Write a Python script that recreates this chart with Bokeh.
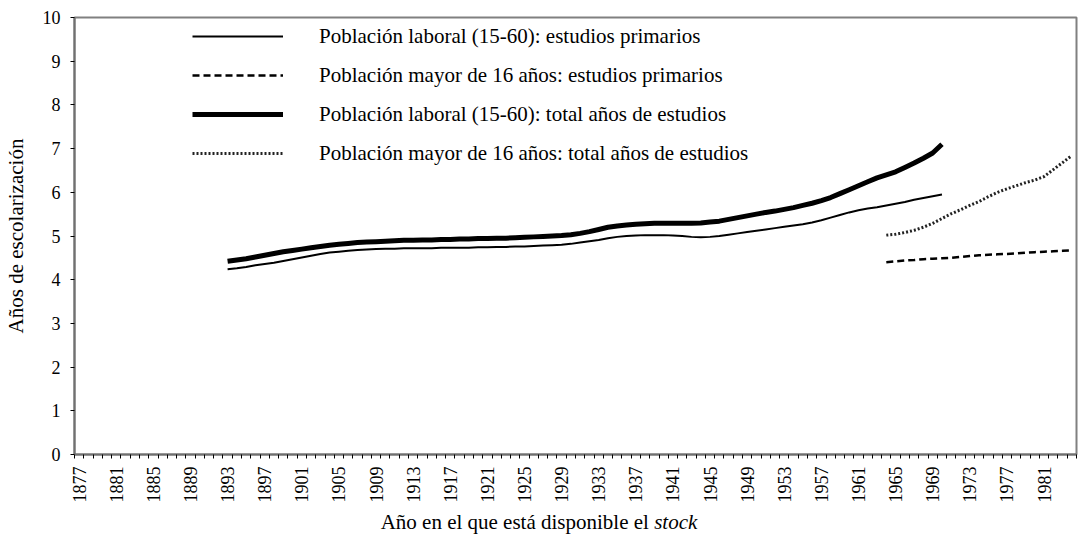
from bokeh.plotting import figure
from bokeh.models import Range1d, FixedTicker, Legend, LegendItem, Div
from bokeh.layouts import column
from bokeh.embed import file_html
from bokeh.resources import INLINE

# ---- data ----
years_laboral = list(range(1893, 1971))
prim_laboral = [4.24, 4.26, 4.29, 4.33, 4.36, 4.39, 4.43, 4.47, 4.51, 4.55, 4.59,
                4.62, 4.64, 4.66, 4.68, 4.69, 4.70, 4.71, 4.71, 4.72, 4.72,
                4.72, 4.72, 4.73, 4.73, 4.73, 4.73, 4.74, 4.74, 4.75, 4.75,
                4.76, 4.76, 4.77, 4.78, 4.79, 4.80, 4.82, 4.85, 4.88, 4.91,
                4.95, 4.98, 5.00, 5.01, 5.02, 5.02, 5.02, 5.01, 5.00, 4.98,
                4.97, 4.98, 5.00, 5.03, 5.06, 5.09, 5.12, 5.15, 5.18, 5.21,
                5.24, 5.27, 5.31, 5.36, 5.42, 5.48, 5.54, 5.59, 5.63, 5.66,
                5.70, 5.74, 5.78, 5.83, 5.87, 5.91, 5.95]
total_laboral = [4.42, 4.45, 4.48, 4.52, 4.56, 4.60, 4.64, 4.67, 4.70, 4.73, 4.76,
                 4.79, 4.81, 4.83, 4.85, 4.86, 4.87, 4.88, 4.89, 4.90, 4.90,
                 4.91, 4.91, 4.92, 4.92, 4.93, 4.93, 4.94, 4.94, 4.95, 4.95,
                 4.96, 4.97, 4.98, 4.99, 5.00, 5.01, 5.03, 5.06, 5.10, 5.15,
                 5.20, 5.23, 5.25, 5.27, 5.28, 5.29, 5.29, 5.29, 5.29, 5.29,
                 5.30, 5.32, 5.34, 5.38, 5.42, 5.46, 5.50, 5.54, 5.57, 5.61,
                 5.65, 5.70, 5.75, 5.81, 5.88, 5.97, 6.06, 6.15, 6.24, 6.33,
                 6.40, 6.47, 6.57, 6.67, 6.78, 6.90, 7.10]
years_mayor = list(range(1964, 1985))
prim_mayor = [4.40, 4.42, 4.44, 4.45, 4.47, 4.48, 4.49, 4.50, 4.52, 4.54,
              4.56, 4.57, 4.58, 4.59, 4.60, 4.62, 4.63, 4.64, 4.65, 4.66, 4.67]
total_mayor = [5.02, 5.04, 5.08, 5.13, 5.20, 5.29, 5.40, 5.51, 5.60, 5.70,
               5.79, 5.90, 6.00, 6.08, 6.15, 6.22, 6.28, 6.36, 6.52, 6.68, 6.84]
tick_years = list(range(1877, 1985, 4))
y_ticks = list(range(0, 11))
legend_labels = ["Población laboral (15-60): estudios primarios",
                 "Población mayor de 16 años: estudios primarios",
                 "Población laboral (15-60): total años de estudios",
                 "Población mayor de 16 años: total años de estudios"]
y_label = "Años de escolarización"
x_label = "Año en el que está disponible el"
x_label_it = "stock"

FONT = "Liberation Serif"

p = figure(width=1078, height=505, output_backend="svg", toolbar_location=None,
           x_range=Range1d(1876.5, 1984.5), y_range=Range1d(0, 10),
           min_border_left=74, min_border_right=2, min_border_top=17,
           min_border_bottom=50)
p.xgrid.visible = False
p.ygrid.visible = False
p.background_fill_color = "white"
p.border_fill_color = "white"
p.outline_line_color = "#808080"
p.outline_line_width = 2

# x axis: labels every 4 years, small ticks at category boundaries
minor = [1876.5 + i for i in range(0, 109)]
p.xaxis.ticker = FixedTicker(ticks=tick_years, minor_ticks=minor)
p.xaxis.major_tick_out = 0
p.xaxis.major_tick_in = 0
p.xaxis.minor_tick_out = 4
p.xaxis.minor_tick_in = 0
p.xaxis.minor_tick_line_color = "black"
p.xaxis.major_label_orientation = 1.5707963
p.xaxis.major_label_standoff = 8
p.xaxis.axis_line_color = "#707070"
p.xaxis.axis_line_width = 2
p.xaxis.major_label_text_font_size = "18px"

p.yaxis.ticker = FixedTicker(ticks=y_ticks)
p.yaxis.major_tick_out = 4
p.yaxis.major_tick_in = 0
p.yaxis.minor_tick_out = 0
p.yaxis.minor_tick_in = 0
p.yaxis.major_tick_line_color = "black"
p.yaxis.major_label_standoff = 10
p.yaxis.axis_line_color = "#707070"
p.yaxis.axis_line_width = 2
p.yaxis.axis_label = y_label
p.yaxis.axis_label_standoff = 12
p.yaxis.major_label_text_font_size = "18px"

for ax in (p.xaxis, p.yaxis):
    ax.major_label_text_font = FONT
    ax.major_label_text_color = "black"
    ax.axis_label_text_font = FONT
    ax.axis_label_text_font_size = "21px"
    ax.axis_label_text_font_style = "normal"
    ax.axis_label_text_color = "black"

r1 = p.line(years_laboral, prim_laboral, line_color="black", line_width=2)
r2 = p.line(years_mayor, prim_mayor, line_color="black", line_width=2.5,
            line_dash="7 4")
r3 = p.line(years_laboral, total_laboral, line_color="black", line_width=5)
r4 = p.line(years_mayor, total_mayor, line_color="#222222", line_width=3,
            line_dash="2 2")

legend = Legend(items=[LegendItem(label=legend_labels[0], renderers=[r1]),
                       LegendItem(label=legend_labels[1], renderers=[r2]),
                       LegendItem(label=legend_labels[2], renderers=[r3]),
                       LegendItem(label=legend_labels[3], renderers=[r4])],
                location=(118, 288), padding=0, margin=0,
                glyph_width=91, glyph_height=26, label_height=26,
                label_standoff=36, spacing=13,
                border_line_color=None, background_fill_alpha=0,
                label_text_font=FONT, label_text_font_size="21px",
                label_text_color="black")
p.add_layout(legend)

xdiv = Div(text=x_label + " <i>" + x_label_it + "</i>", width=1078, height=40,
           styles={"text-align": "center", "font-family": FONT,
                   "font-size": "21px", "color": "black",
                   "padding-right": "10px", "line-height": "24px"})

layout = column(p, xdiv, spacing=0)

open("out.html", "w").write(file_html(layout, INLINE))
